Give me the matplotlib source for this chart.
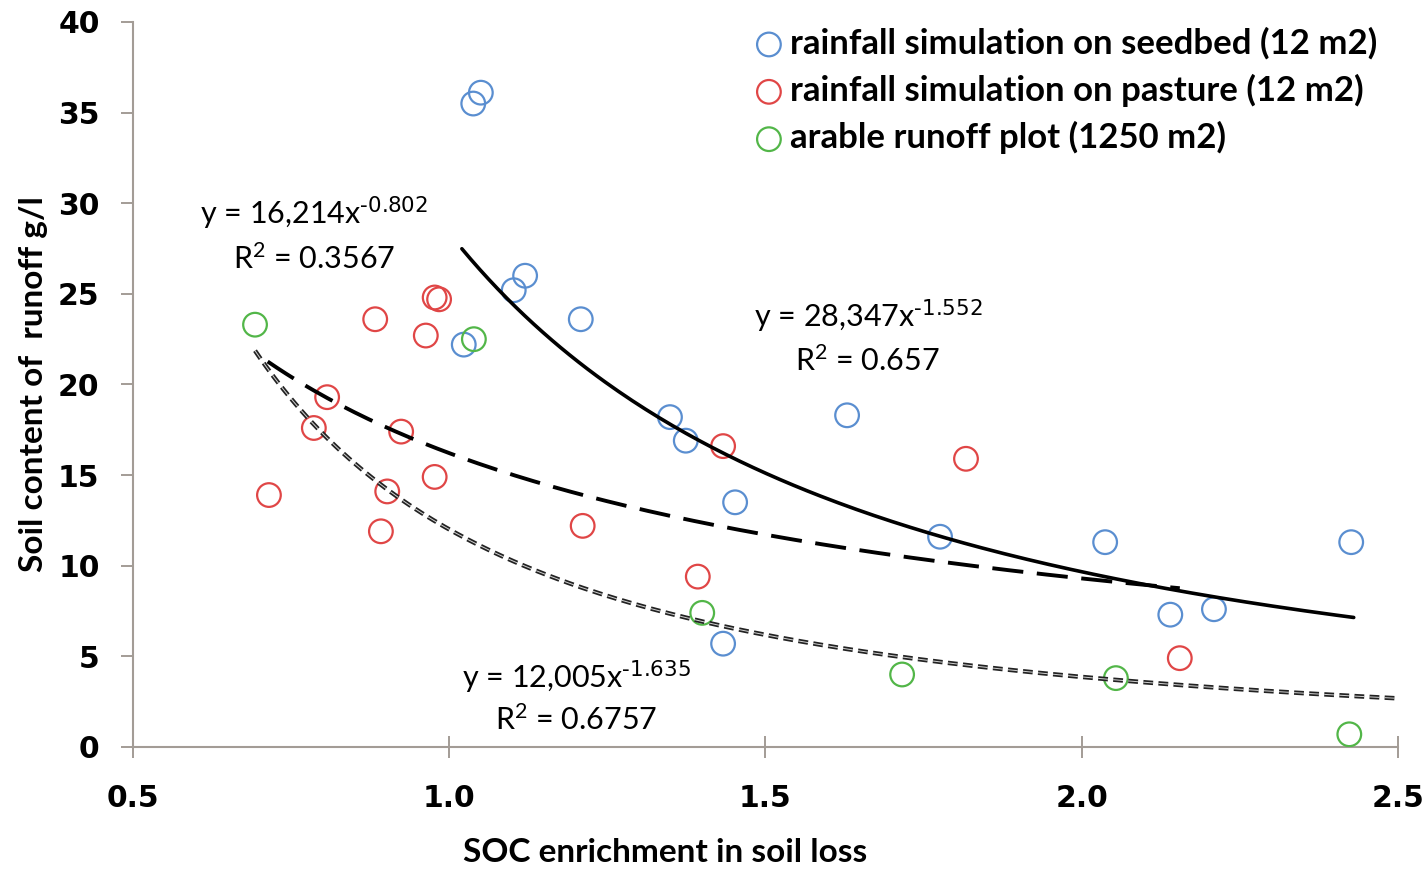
import numpy as np
import matplotlib
matplotlib.use('Agg')
import matplotlib.pyplot as plt

# seedbed rainfall simulation (12 m2)
seed_x = [1.038, 1.050, 1.102, 1.120, 1.023, 1.208, 1.349, 1.374, 1.452, 1.629,
          1.776, 2.037, 2.140, 2.209, 2.426, 1.433]
seed_y = [35.5, 36.1, 25.2, 26.0, 22.2, 23.6, 18.2, 16.9, 13.5, 18.3,
          11.6, 11.3, 7.3, 7.6, 11.3, 5.7]

# pasture rainfall simulation (12 m2)
past_x = [0.883, 0.977, 0.984, 0.963, 0.807, 0.786, 0.924, 0.715, 0.902, 0.892,
          0.977, 1.211, 1.393, 1.433, 1.817, 2.155]
past_y = [23.6, 24.8, 24.7, 22.7, 19.3, 17.6, 17.4, 13.9, 14.1, 11.9,
          14.9, 12.2, 9.4, 16.6, 15.9, 4.9]

# arable runoff plot (1250 m2)
arab_x = [0.693, 1.039, 1.400, 1.716, 2.054, 2.423]
arab_y = [23.3, 22.5, 7.4, 4.0, 3.8, 0.7]

# power-law fits: (coef, exponent, x range)
seed_fit = (28.347, -1.552, 1.02, 2.43)
past_fit = (16.214, -0.802, 0.713, 2.155)
arab_fit = (12.005, -1.635, 0.693, 2.5)

blue = '#5A8ED0'
red = '#E04646'
green = '#52B648'
axis_gray = '#A39C96'

plt.rcParams['font.family'] = ['Lato', 'DejaVu Sans']
plt.rcParams['mathtext.default'] = 'regular'

fig = plt.figure(figsize=(14.28, 8.69), dpi=100)
ax = fig.add_axes([0.0931, 0.1404, 0.8859, 0.8343])

mk = dict(marker='o', s=290, facecolors='none', linewidths=1.6, zorder=3)
ax.scatter(seed_x, seed_y, edgecolors=blue, label='rainfall simulation on seedbed (12 m2)', **mk)
ax.scatter(past_x, past_y, edgecolors=red, label='rainfall simulation on pasture (12 m2)', **mk)
ax.scatter(arab_x, arab_y, edgecolors=green, label='arable runoff plot (1250 m2)', **mk)

def fit_curve(f):
    a, b, x0, x1 = f
    xs = np.linspace(x0, x1, 200)
    return xs, a * xs ** b

xs, ys = fit_curve(seed_fit)
ax.plot(xs, ys, color='black', lw=2.6, solid_capstyle='round', zorder=4)
xs, ys = fit_curve(past_fit)
ax.plot(xs, ys, color='black', lw=2.8, dashes=(8, 3.5), zorder=4)
xs, ys = fit_curve(arab_fit)
ax.plot(xs, ys, color='#222222', lw=3.2, dashes=(2.2, 1.2), zorder=4)
ax.plot(xs, ys, color='white', lw=0.7, dashes=(2.2 * 3.2 / 0.7, 1.2 * 3.2 / 0.7), alpha=0.8, zorder=5)

eq_kw = dict(fontsize=22, color='black', va='center', zorder=6)
ax.text(0.606, 29.46, r'y = 16,214x$^{\text{-0.802}}$', **eq_kw)
ax.text(0.658, 26.92, r'R$^{2}$ = 0.3567', **eq_kw)
ax.text(1.482, 23.78, r'y = 28,347x$^{\text{-1.552}}$', **eq_kw)
ax.text(1.547, 21.30, r'R$^{2}$ = 0.657', **eq_kw)
ax.text(1.020, 3.86, r'y = 12,005x$^{\text{-1.635}}$', **eq_kw)
ax.text(1.072, 1.49, r'R$^{2}$ = 0.6757', **eq_kw)

ax.set_xlim(0.5, 2.5)
ax.set_ylim(0, 40)
ax.set_xticks([0.5, 1.0, 1.5, 2.0, 2.5])
ax.set_xticklabels(['0.5', '1.0', '1.5', '2.0', '2.5'])
ax.set_yticks(range(0, 41, 5))
for lab in ax.get_xticklabels() + ax.get_yticklabels():
    lab.set_fontfamily('DejaVu Sans')
    lab.set_fontweight('bold')
    lab.set_fontsize(21.5)
ax.tick_params(axis='y', direction='out', length=9, width=1.4, color=axis_gray, pad=15)
ax.tick_params(axis='x', direction='inout', length=16, width=1.4, color=axis_gray, pad=19)

for s in ['top', 'right']:
    ax.spines[s].set_visible(False)
for s in ['left', 'bottom']:
    ax.spines[s].set_color(axis_gray)
    ax.spines[s].set_linewidth(1.5)

ax.set_xlabel('SOC enrichment in soil loss', fontsize=24, fontweight='bold')
ax.xaxis.set_label_coords(0.4206, -0.1255)
ax.set_ylabel('Soil content of  runoff g/l', fontsize=24, fontweight='bold')
ax.yaxis.set_label_coords(-0.067, 0.5)

leg = ax.legend(loc='upper right', bbox_to_anchor=(1377 / 1428, 1 - 27 / 869),
                bbox_transform=fig.transFigure, frameon=False,
                prop={'weight': 'bold', 'size': 25}, handlelength=1.0, handletextpad=0.1,
                labelspacing=0.41, markerscale=1.0, borderpad=0, borderaxespad=0)

plt.savefig('out.png', dpi=100)
plt.close()
